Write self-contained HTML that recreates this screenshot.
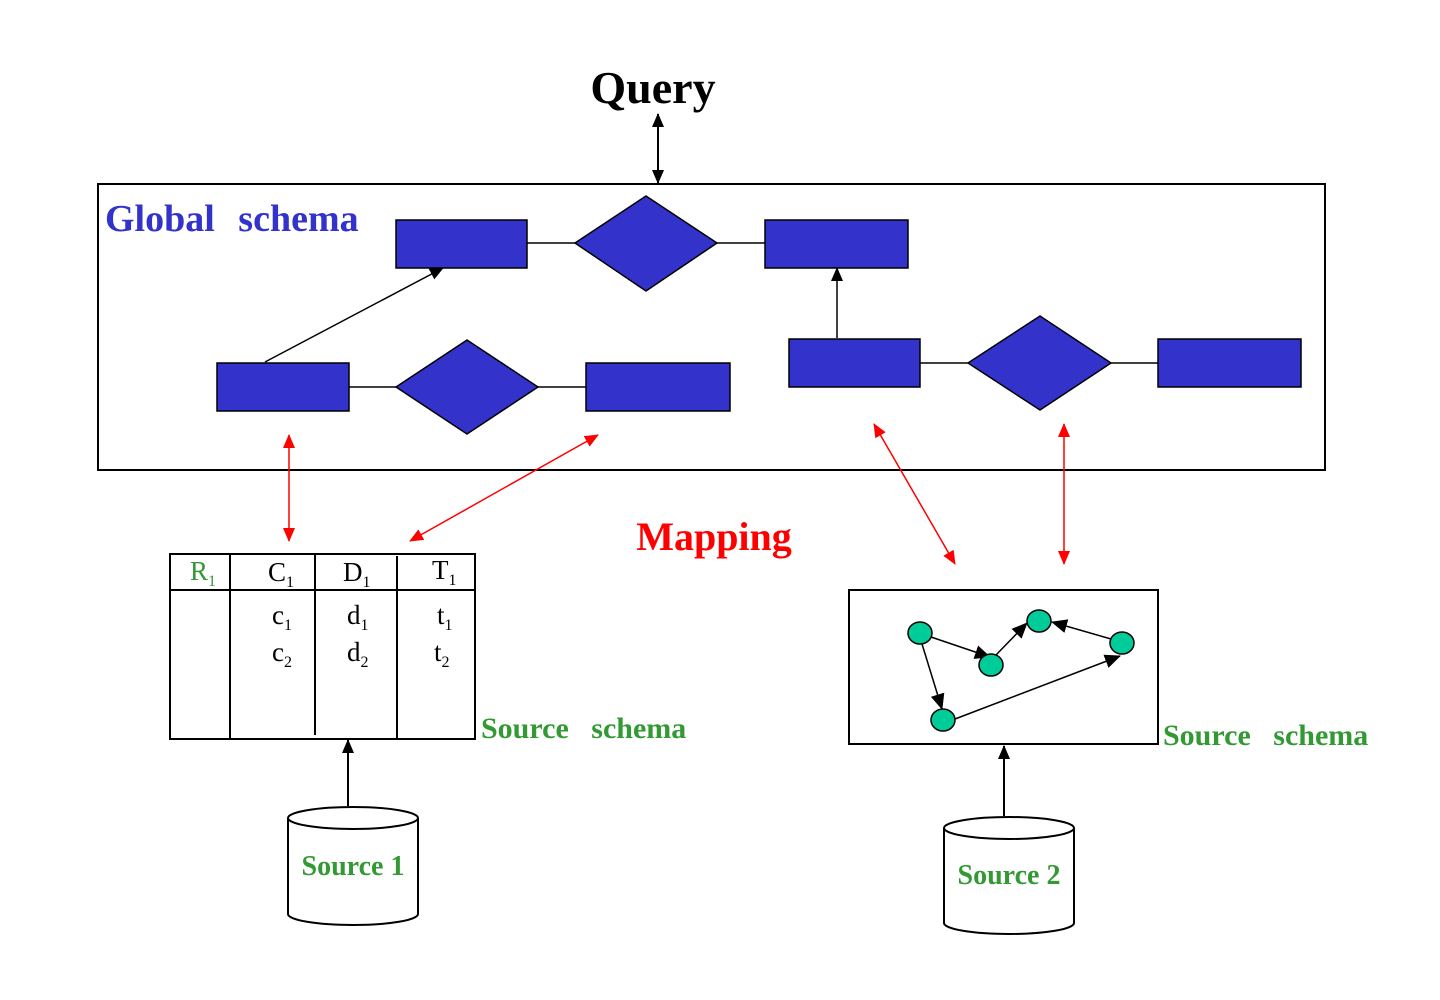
<!DOCTYPE html>
<html><head><meta charset="utf-8"><style>html,body{margin:0;padding:0;background:#fff}svg{display:block}</style></head><body>
<svg width="1440" height="1000" viewBox="0 0 1440 1000" xmlns="http://www.w3.org/2000/svg" font-family="Liberation Serif, serif">
<defs>
<marker id="ab" markerWidth="16" markerHeight="14" refX="15" refY="7" orient="auto" markerUnits="userSpaceOnUse"><path d="M0,0 L16,7 L0,14 z" fill="#000"/></marker>
<marker id="ar" markerWidth="14" markerHeight="12" refX="13" refY="6" orient="auto-start-reverse" markerUnits="userSpaceOnUse"><path d="M0,0 L14,6 L0,12 z" fill="#f00"/></marker>
<marker id="aq" markerWidth="14" markerHeight="12" refX="13" refY="6" orient="auto-start-reverse" markerUnits="userSpaceOnUse"><path d="M0,0 L14,6 L0,12 z" fill="#000"/></marker>
</defs>
<text x="653" y="103" font-size="46" font-weight="bold" text-anchor="middle">Query</text>
<line x1="658" y1="114" x2="658" y2="183" stroke="#000" stroke-width="2" marker-start="url(#aq)" marker-end="url(#aq)"/>
<rect x="98" y="184" width="1227" height="286" fill="none" stroke="#000" stroke-width="2"/>
<text x="105" y="231" font-size="38" font-weight="bold" fill="#3333cc" word-spacing="14">Global schema</text>
<g fill="#3333cc" stroke="#000" stroke-width="1.5">
<rect x="396" y="220" width="131" height="48"/>
<polygon points="575,243 646,196 717,243 646,291"/>
<rect x="765" y="220" width="143" height="48"/>
<rect x="217" y="363" width="132" height="48"/>
<polygon points="396,387 467,340 538,387 467,434"/>
<rect x="586" y="363" width="144" height="48"/>
<rect x="789" y="339" width="131" height="48"/>
<polygon points="968,363 1040,316 1111,363 1040,410"/>
<rect x="1158" y="339" width="143" height="48"/>
</g>
<g stroke="#000" stroke-width="1.5">
<line x1="527" y1="243" x2="575" y2="243"/><line x1="717" y1="243" x2="765" y2="243"/>
<line x1="349" y1="387" x2="396" y2="387"/><line x1="538" y1="387" x2="586" y2="387"/>
<line x1="920" y1="363" x2="968" y2="363"/><line x1="1111" y1="363" x2="1158" y2="363"/>
<line x1="265" y1="362" x2="443" y2="268" marker-end="url(#aq)"/>
<line x1="837" y1="338" x2="837" y2="268" marker-end="url(#aq)"/>
</g>
<g stroke="#f00" stroke-width="1.5">
<line x1="289" y1="435" x2="289" y2="541" marker-start="url(#ar)" marker-end="url(#ar)"/>
<line x1="598" y1="435" x2="410" y2="541" marker-start="url(#ar)" marker-end="url(#ar)"/>
<line x1="874" y1="424" x2="955" y2="564" marker-start="url(#ar)" marker-end="url(#ar)"/>
<line x1="1064" y1="424" x2="1064" y2="564" marker-start="url(#ar)" marker-end="url(#ar)"/>
</g>
<text x="714" y="550" font-size="40" font-weight="bold" fill="#f00" text-anchor="middle">Mapping</text>
<g stroke="#000" stroke-width="2" fill="none">
<rect x="170" y="554" width="305" height="185"/>
<line x1="170" y1="590" x2="475" y2="590"/>
<line x1="230" y1="554" x2="230" y2="739"/>
<line x1="315" y1="554" x2="315" y2="735"/>
<line x1="397" y1="556" x2="397" y2="739"/>
</g>
<g font-size="27">
<text x="190" y="580" fill="#339933">R<tspan font-size="16" dy="6">1</tspan></text>
<text x="268" y="581">C<tspan font-size="16" dy="6">1</tspan></text>
<text x="343" y="581">D<tspan font-size="16" dy="6">1</tspan></text>
<text x="432" y="579">T<tspan font-size="16" dy="6">1</tspan></text>
<text x="272" y="624">c<tspan font-size="16" dy="6">1</tspan></text>
<text x="272" y="661">c<tspan font-size="16" dy="6">2</tspan></text>
<text x="347" y="624">d<tspan font-size="16" dy="6">1</tspan></text>
<text x="347" y="661">d<tspan font-size="16" dy="6">2</tspan></text>
<text x="437" y="624">t<tspan font-size="16" dy="6">1</tspan></text>
<text x="434" y="661">t<tspan font-size="16" dy="6">2</tspan></text>
</g>
<text x="481" y="738" font-size="30" font-weight="bold" fill="#339933" word-spacing="15">Source schema</text>
<text x="1163" y="745" font-size="30" font-weight="bold" fill="#339933" word-spacing="15">Source schema</text>
<rect x="849" y="590" width="309" height="154" fill="none" stroke="#000" stroke-width="2"/>
<g stroke="#000" stroke-width="1.5">
<line x1="931" y1="637" x2="990" y2="657" marker-end="url(#ab)"/>
<line x1="996" y1="655" x2="1027" y2="623" marker-end="url(#ab)"/>
<line x1="1111" y1="639" x2="1052" y2="622" marker-end="url(#ab)"/>
<line x1="922" y1="644" x2="942" y2="709" marker-end="url(#ab)"/>
<line x1="955" y1="719" x2="1120" y2="656" marker-end="url(#ab)"/>
</g>
<g fill="#00cc99" stroke="#000" stroke-width="1.5">
<ellipse cx="920" cy="633" rx="12" ry="11"/>
<ellipse cx="991" cy="665" rx="12" ry="11"/>
<ellipse cx="1039" cy="621" rx="12" ry="11"/>
<ellipse cx="1122" cy="643" rx="12" ry="11"/>
<ellipse cx="943" cy="720" rx="12" ry="11"/>
</g>
<line x1="348" y1="806" x2="348" y2="740" stroke="#000" stroke-width="2" marker-end="url(#aq)"/>
<line x1="1004" y1="816" x2="1004" y2="746" stroke="#000" stroke-width="2" marker-end="url(#aq)"/>
<g stroke="#000" stroke-width="2" fill="#fff">
<path d="M288,818 L288,914 A65,11 0 0 0 418,914 L418,818"/>
<ellipse cx="353" cy="818" rx="65" ry="11"/>
<path d="M944,828 L944,923 A65,11 0 0 0 1074,923 L1074,828"/>
<ellipse cx="1009" cy="828" rx="65" ry="11"/>
</g>
<text x="353" y="875" font-size="28" font-weight="bold" fill="#339933" text-anchor="middle">Source 1</text>
<text x="1009" y="884" font-size="28" font-weight="bold" fill="#339933" text-anchor="middle">Source 2</text>
</svg>
</body></html>
